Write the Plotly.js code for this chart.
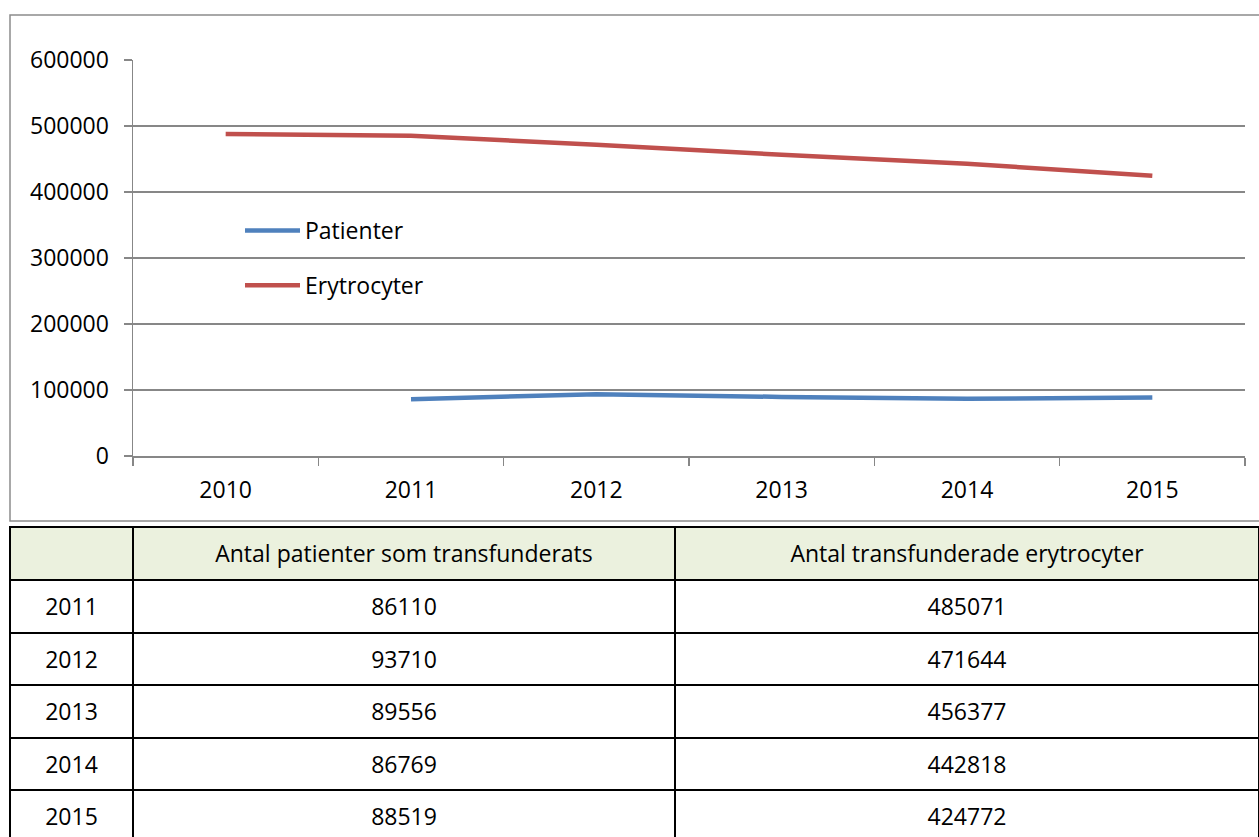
<!DOCTYPE html>
<html>
<head>
<meta charset="utf-8">
<script src="https://cdn.plot.ly/plotly-3.0.1.min.js"></script>
<style>html,body{margin:0;padding:0;background:#fff;}#chart{width:1259px;height:837px;}</style>
</head>
<body>
<div id="chart"></div>
<script>
// ---- data ----
const years = ['2010', '2011', '2012', '2013', '2014', '2015'];
const patienter = [null, 86110, 93710, 89556, 86769, 88519];
const erytrocyter = [488000, 485071, 471644, 456377, 442818, 424772];
const seriesNames = ['Patienter', 'Erytrocyter'];
const tableYears = ['2011', '2012', '2013', '2014', '2015'];
const tablePatienter = [86110, 93710, 89556, 86769, 88519];
const tableErytrocyter = [485071, 471644, 456377, 442818, 424772];
const tableHeaders = ['', 'Antal patienter som transfunderats', 'Antal transfunderade erytrocyter'];

const W = 1259, H = 837;
const FONT = 'Open Sans, sans-serif';
const FS = 23;
const px = v => v / W;
const py = v => (H - v) / H;

const tableValues = [tableYears, tablePatienter, tableErytrocyter];
const blank = arr => arr.map(() => '');

// grid + fills of the table (no text)
const tableGrid = {
  type: 'table',
  domain: {x: [px(10), 1], y: [0, py(527)]},
  columnwidth: [123, 542, 584],
  header: {
    values: blank(tableHeaders),
    fill: {color: '#EBF1DE'},
    line: {color: '#000000', width: 2},
    height: 53,
    font: {family: FONT, size: FS, color: '#000000'}
  },
  cells: {
    values: tableValues.map(blank),
    fill: {color: '#FFFFFF'},
    line: {color: '#000000', width: 2},
    height: 52.5,
    font: {family: FONT, size: FS, color: '#000000'}
  }
};
// text layer of the table, lowered so the text sits centred in each cell
const tableText = {
  type: 'table',
  domain: {x: [px(10), 1], y: [0, py(537)]},
  columnwidth: [123, 542, 584],
  header: {
    values: tableHeaders,
    fill: {color: 'rgba(0,0,0,0)'},
    line: {color: 'rgba(0,0,0,0)', width: 0},
    align: 'center',
    height: 53,
    font: {family: FONT, size: FS, color: '#000000'}
  },
  cells: {
    values: tableValues,
    fill: {color: 'rgba(0,0,0,0)'},
    line: {color: 'rgba(0,0,0,0)', width: 0},
    align: 'center',
    height: 52.5,
    font: {family: FONT, size: FS, color: '#000000'}
  }
};

const traces = [
  {
    type: 'scatter', mode: 'lines', x: years, y: patienter, name: seriesNames[0],
    line: {color: '#4F81BD', width: 4.5}, legendgroup: 'a', connectgaps: false
  },
  {
    type: 'scatter', mode: 'lines', x: years, y: erytrocyter, name: seriesNames[1],
    line: {color: '#C0504D', width: 4.5}, legendgroup: 'b'
  },
  tableGrid,
  tableText
];

const layout = {
  width: W, height: H,
  margin: {l: 0, r: 0, t: 0, b: 0},
  paper_bgcolor: '#FFFFFF', plot_bgcolor: '#FFFFFF',
  font: {family: FONT, size: FS, color: '#000000'},
  showlegend: true,
  legend: {
    x: px(240), y: py(209), xanchor: 'left', yanchor: 'top',
    bgcolor: 'rgba(0,0,0,0)', borderwidth: 0,
    tracegroupgap: 22, traceorder: 'grouped', itemwidth: 55,
    font: {family: FONT, size: FS, color: '#000000'}
  },
  xaxis: {
    type: 'category', domain: [px(133), px(1245)], range: [-0.5, 5.5],
    tickson: 'boundaries', ticks: 'outside', ticklen: 8, tickwidth: 1.5, tickcolor: '#878787',
    showline: true, linecolor: '#878787', linewidth: 1.5,
    showgrid: false, zeroline: false, automargin: false,
    ticklabelstandoff: 13,
    tickfont: {family: FONT, size: FS, color: '#000000'}
  },
  yaxis: {
    domain: [py(456), py(60)], range: [0, 600000], dtick: 100000, tick0: 0,
    tickformat: 'd',
    ticks: 'outside', ticklen: 8, tickwidth: 1.5, tickcolor: '#878787',
    showline: true, linecolor: '#878787', linewidth: 1.5,
    showgrid: true, gridcolor: '#878787', gridwidth: 1.5,
    zeroline: false, automargin: false,
    ticklabelstandoff: 10,
    tickfont: {family: FONT, size: FS, color: '#000000'}
  },
  shapes: [
    {type: 'rect', xref: 'paper', yref: 'paper', x0: px(10), x1: px(1275), y0: py(521), y1: py(15),
     line: {color: '#8C8C8C', width: 1.5}, fillcolor: 'rgba(0,0,0,0)', layer: 'below'}
  ]
};

Plotly.newPlot('chart', traces, layout, {displayModeBar: false, staticPlot: true});
</script>
</body>
</html>
